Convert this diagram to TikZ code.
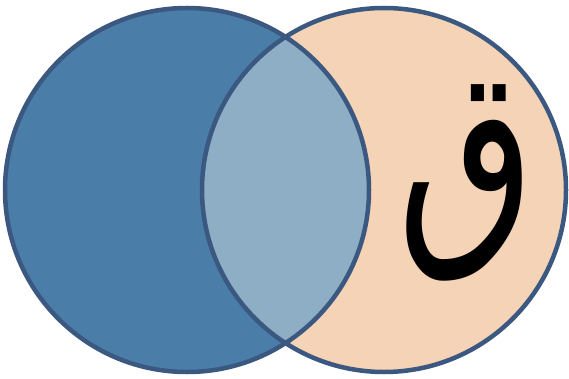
\documentclass[tikz,border=0pt]{standalone}
\usepackage{fontspec}
\newfontfamily\arabicfont[Script=Arabic]{DejaVu Sans}
\TeXXeTstate=1
\usetikzlibrary{positioning}
\definecolor{setblue}{HTML}{4A7EA8}
\definecolor{setpeach}{HTML}{F4D3B6}
\definecolor{setmix}{HTML}{8DAEC4}
\definecolor{rimblue}{HTML}{3B5880}

\begin{document}
\begin{tikzpicture}[x=1pt,y=-1pt,
  setline/.style={draw=rimblue, line width=4.5pt}]
\useasboundingbox (0,0) rectangle (569,379);
\coordinate (L) at (187,190);
\coordinate (R) at (384,190);
\fill[setblue] (L) circle[radius=182pt];
\fill[setpeach] (R) circle[radius=182pt];
\begin{scope}
  \clip (L) circle[radius=182pt];
  \fill[setmix] (R) circle[radius=182pt];
\end{scope}
\draw[setline] (L) circle[radius=182pt];
\draw[setline] (R) circle[radius=182pt];
\node[font=\fontsize{178}{178}\selectfont\arabicfont, yscale=1.3, inner sep=0pt] (qaf) at (467,183) {\beginR ق\endR};
\end{tikzpicture}
\end{document}
